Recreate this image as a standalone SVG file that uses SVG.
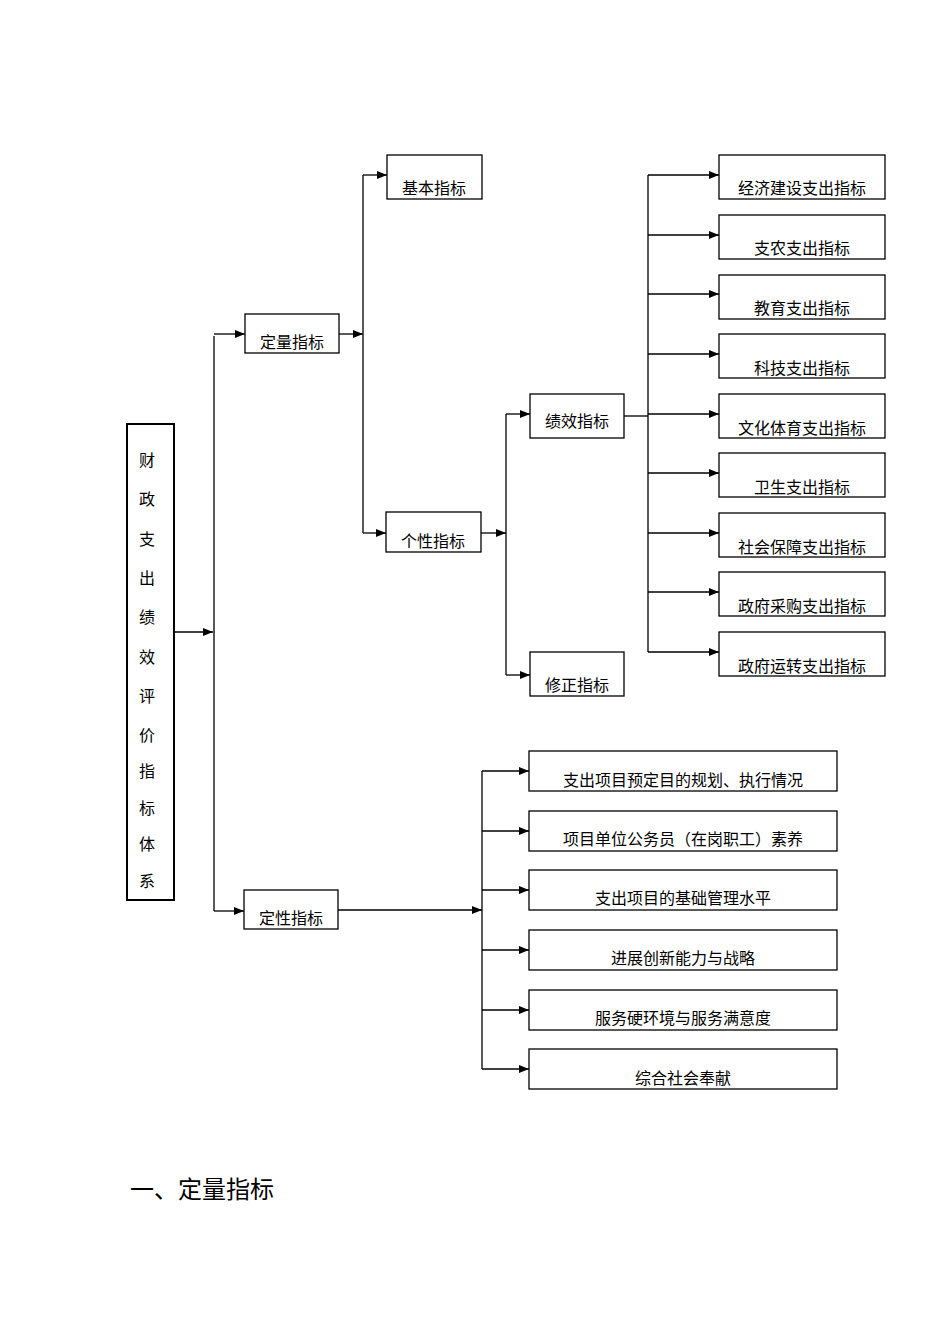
<svg xmlns="http://www.w3.org/2000/svg" width="950" height="1344" viewBox="0 0 950 1344">
<style>
rect{fill:#fff;stroke:#000;stroke-width:1.3}
text{font-family:"Noto Sans CJK SC","Liberation Serif",serif;font-size:16px;text-anchor:middle;fill:#000}
.c line{stroke:#000;stroke-width:1.3}
</style>
<defs><marker id="a" markerWidth="10" markerHeight="8" refX="10" refY="4" orient="auto" markerUnits="userSpaceOnUse"><path d="M0,0L10,4L0,8z"/></marker></defs>
<rect x="0" y="0" width="950" height="1344" style="stroke:none"/>
<g class="c">
<line x1="174" y1="632" x2="213" y2="632" marker-end="url(#a)"/>
<line x1="214" y1="336" x2="214" y2="911"/>
<line x1="214" y1="334" x2="245" y2="334" marker-end="url(#a)"/>
<line x1="214" y1="911" x2="244" y2="911" marker-end="url(#a)"/>
<line x1="339" y1="334" x2="363" y2="334" marker-end="url(#a)"/>
<line x1="363" y1="175" x2="363" y2="533"/>
<line x1="363" y1="175" x2="387" y2="175" marker-end="url(#a)"/>
<line x1="363" y1="533" x2="386" y2="533" marker-end="url(#a)"/>
<line x1="481" y1="533" x2="506" y2="533" marker-end="url(#a)"/>
<line x1="506" y1="414" x2="506" y2="675"/>
<line x1="506" y1="414" x2="530" y2="414" marker-end="url(#a)"/>
<line x1="506" y1="675" x2="530" y2="675" marker-end="url(#a)"/>
<line x1="624" y1="416" x2="648" y2="416"/>
<line x1="648" y1="175" x2="648" y2="652"/>
<line x1="648" y1="175" x2="719" y2="175" marker-end="url(#a)"/>
<line x1="648" y1="235" x2="719" y2="235" marker-end="url(#a)"/>
<line x1="648" y1="294" x2="719" y2="294" marker-end="url(#a)"/>
<line x1="648" y1="354" x2="719" y2="354" marker-end="url(#a)"/>
<line x1="648" y1="414" x2="719" y2="414" marker-end="url(#a)"/>
<line x1="648" y1="473" x2="719" y2="473" marker-end="url(#a)"/>
<line x1="648" y1="533" x2="719" y2="533" marker-end="url(#a)"/>
<line x1="648" y1="592" x2="719" y2="592" marker-end="url(#a)"/>
<line x1="648" y1="652" x2="719" y2="652" marker-end="url(#a)"/>
<line x1="338" y1="910" x2="482" y2="910" marker-end="url(#a)"/>
<line x1="482" y1="771" x2="482" y2="1069"/>
<line x1="482" y1="771" x2="529" y2="771" marker-end="url(#a)"/>
<line x1="482" y1="831" x2="529" y2="831" marker-end="url(#a)"/>
<line x1="482" y1="890" x2="529" y2="890" marker-end="url(#a)"/>
<line x1="482" y1="950" x2="529" y2="950" marker-end="url(#a)"/>
<line x1="482" y1="1010" x2="529" y2="1010" marker-end="url(#a)"/>
<line x1="482" y1="1069" x2="529" y2="1069" marker-end="url(#a)"/>
</g>
<g id="root"><rect x="127" y="424" width="47" height="476" style="stroke-width:2"/>
<text x="147" y="466">财</text><text x="147" y="505">政</text><text x="147" y="545">支</text><text x="147" y="584">出</text><text x="147" y="623">绩</text><text x="147" y="663">效</text><text x="147" y="702">评</text><text x="147" y="741">价</text><text x="147" y="777">指</text><text x="147" y="814">标</text><text x="147" y="850">体</text><text x="147" y="887">系</text></g>
<g id="dl"><rect x="245" y="314" width="94" height="39"/><text x="292" y="348">定量指标</text></g>
<g id="dx"><rect x="244" y="890" width="94" height="39"/><text x="291" y="924">定性指标</text></g>
<g id="jb"><rect x="387" y="155" width="95" height="44"/><text x="434" y="194">基本指标</text></g>
<g id="gx"><rect x="386" y="512" width="95" height="40"/><text x="433" y="547">个性指标</text></g>
<g id="jx"><rect x="530" y="394" width="94" height="44"/><text x="577" y="427">绩效指标</text></g>
<g id="xz"><rect x="530" y="652" width="94" height="44"/><text x="577" y="691">修正指标</text></g>
<g id="r1"><rect x="719" y="155" width="166" height="44"/><text x="802" y="194">经济建设支出指标</text></g>
<g id="r2"><rect x="719" y="215" width="166" height="44"/><text x="802" y="254">支农支出指标</text></g>
<g id="r3"><rect x="719" y="275" width="166" height="44"/><text x="802" y="314">教育支出指标</text></g>
<g id="r4"><rect x="719" y="334" width="166" height="44"/><text x="802" y="374">科技支出指标</text></g>
<g id="r5"><rect x="719" y="394" width="166" height="44"/><text x="802" y="434">文化体育支出指标</text></g>
<g id="r6"><rect x="719" y="453" width="166" height="44"/><text x="802" y="493">卫生支出指标</text></g>
<g id="r7"><rect x="719" y="513" width="166" height="44"/><text x="802" y="553">社会保障支出指标</text></g>
<g id="r8"><rect x="719" y="572" width="166" height="44"/><text x="802" y="612">政府采购支出指标</text></g>
<g id="r9"><rect x="719" y="632" width="166" height="44"/><text x="802" y="672">政府运转支出指标</text></g>
<g id="q1"><rect x="529" y="751" width="308" height="40"/><text x="683" y="786">支出项目预定目的规划、执行情况</text></g>
<g id="q2"><rect x="529" y="811" width="308" height="40"/><text x="683" y="845">项目单位公务员（在岗职工）素养</text></g>
<g id="q3"><rect x="529" y="870" width="308" height="40"/><text x="683" y="904">支出项目的基础管理水平</text></g>
<g id="q4"><rect x="529" y="930" width="308" height="40"/><text x="683" y="964">进展创新能力与战略</text></g>
<g id="q5"><rect x="529" y="990" width="308" height="40"/><text x="683" y="1024">服务硬环境与服务满意度</text></g>
<g id="q6"><rect x="529" y="1049" width="308" height="40"/><text x="683" y="1084">综合社会奉献</text></g>
<text x="130" y="1198" style="font-size:24px;text-anchor:start">一、定量指标</text>
</svg>
